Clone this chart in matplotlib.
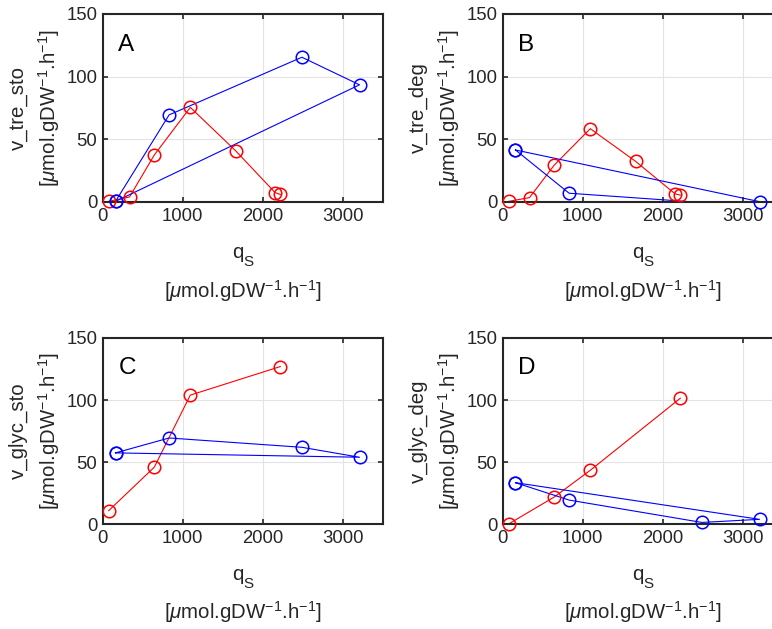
import numpy as np
import matplotlib
matplotlib.use("Agg")
import matplotlib.pyplot as plt

plt.rcParams['font.family'] = ['Liberation Sans', 'DejaVu Sans']
plt.rcParams['mathtext.fontset'] = 'custom'
plt.rcParams['mathtext.rm'] = 'Liberation Sans'
plt.rcParams['mathtext.it'] = 'Liberation Sans:italic'

# datos
x_red = [75, 335, 645, 1095, 1660, 2155, 2220]
x_red_glyc = [75, 645, 1095, 2220]
x_blue = [160, 830, 2490, 3210, 160]

tre_sto_red = [0.5, 4, 37.5, 75.5, 41, 7.5, 6]
tre_sto_blue = [0.5, 69.5, 115.5, 93.5, 0.5]
tre_deg_red = [0.5, 3.5, 29.5, 58.5, 32.5, 6.5, 5.5]
tre_deg_blue = [41.5, 7, -0.4, 0.3, 41.5]
glyc_sto_red = [11, 46, 104, 127]
glyc_sto_blue = [57.5, 69.5, 62, 54, 57.5]
glyc_deg_red = [0.3, 22, 43.5, 101.5]
glyc_deg_blue = [33.5, 19.5, 1.5, 4, 33.5]

panels = [
    ("A", "v_tre_sto", x_red, tre_sto_red, x_blue, tre_sto_blue),
    ("B", "v_tre_deg", x_red, tre_deg_red, x_blue, tre_deg_blue),
    ("C", "v_glyc_sto", x_red_glyc, glyc_sto_red, x_blue, glyc_sto_blue),
    ("D", "v_glyc_deg", x_red_glyc, glyc_deg_red, x_blue, glyc_deg_blue),
]

W, H = 772, 629
fig = plt.figure(figsize=(W / 100, H / 100), dpi=100)

# cajas de ejes en pixeles: (izq, arriba, ancho, alto)
boxes = [(102.7, 14, 280, 188), (502.7, 14, 280, 188),
         (102.7, 338, 280, 186.3), (502.7, 338, 280, 186.3)]

sup = r'$^{\mathregular{-1}}$'
units = r'[$\mu$mol.gDW' + sup + '.h' + sup + ']'
dark = '#262626'
fs_tick = 13.3
fs_lab = 14.7


def plot_series(ax, xs, ys, color):
    ax.plot(xs, ys, '-', color=color, lw=0.8)
    xs = np.array(xs)
    ys = np.array(ys)
    ok = (ys >= 0) & (ys <= 150)
    ax.plot(xs[ok], ys[ok], 'o', mfc='none', mec=color, ms=9, mew=1.1,
            clip_on=False, zorder=5)


for (letter, ylab, xr, yr, xb, yb), (l, t, w, h) in zip(panels, boxes):
    ax = fig.add_axes([l / W, (H - t - h) / H, w / W, h / H])
    plot_series(ax, xr, yr, 'red')
    plot_series(ax, xb, yb, 'blue')
    ax.set_xlim(0, 3500)
    ax.set_ylim(0, 150)
    ax.set_xticks([0, 1000, 2000, 3000])
    ax.set_yticks([0, 50, 100, 150])
    ax.grid(True, color='#e3e3e3', lw=0.8)
    ax.set_axisbelow(True)
    ax.tick_params(direction='in', length=3.5, width=1.2, top=True, right=True,
                   labelsize=fs_tick, colors=dark, pad=4)
    for s in ax.spines.values():
        s.set_linewidth(1.5)
        s.set_color(dark)
    ax.text(0.056, 0.805, letter, transform=ax.transAxes, fontsize=17.5,
            color='black', va='baseline', ha='left')
    # etiquetas de dos lineas, como en el original
    ax.text(-0.3025, 0.5, ylab, transform=ax.transAxes, rotation=90,
            ha='center', va='center', fontsize=fs_lab, color=dark)
    ax.text(-0.192, 0.5, units, transform=ax.transAxes, rotation=90,
            ha='center', va='center', fontsize=fs_lab, color=dark)
    # q con subindice S grande, al estilo tex de matlab
    ax.text(0.5025, -0.30, 'q', transform=ax.transAxes,
            ha='right', va='baseline', fontsize=fs_lab, color=dark)
    ax.text(0.5025, -0.341, 'S', transform=ax.transAxes,
            ha='left', va='baseline', fontsize=11, color=dark)
    ax.text(0.5, -0.507, units, transform=ax.transAxes,
            ha='center', va='baseline', fontsize=fs_lab, color=dark)

fig.savefig("out.png", dpi=100)
